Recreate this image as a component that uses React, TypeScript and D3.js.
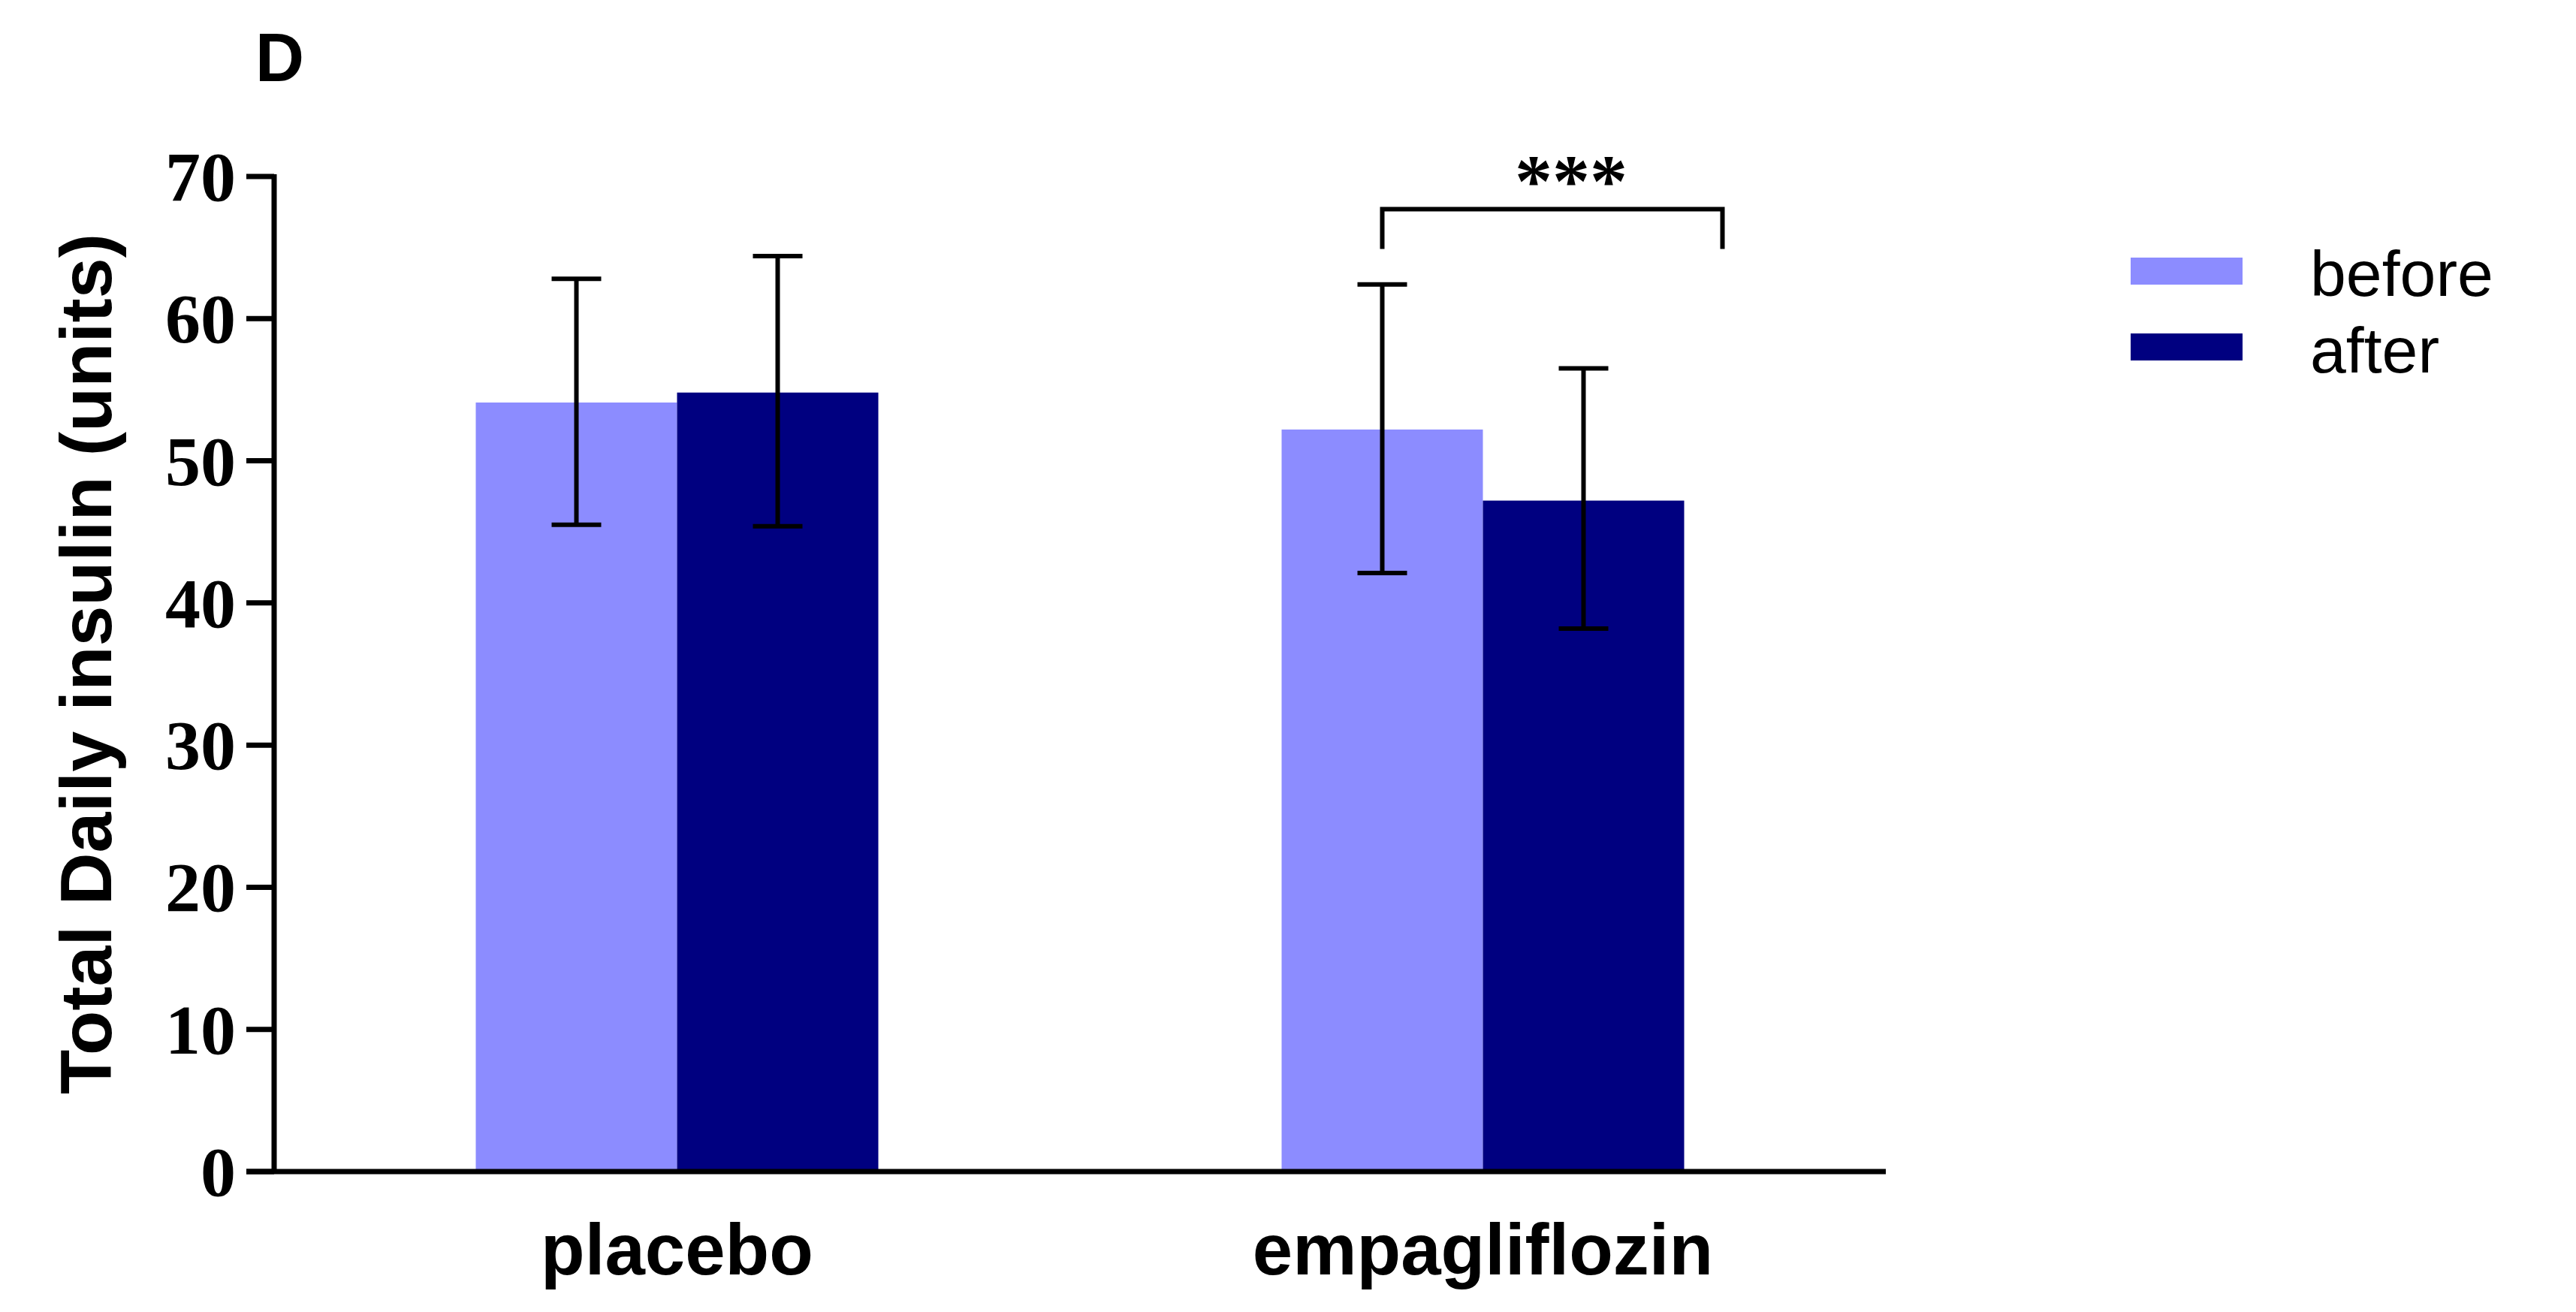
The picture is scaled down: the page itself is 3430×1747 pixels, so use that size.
import React from "react";
import * as d3 from "d3";

const groups = ["placebo", "empagliflozin"];
const series = ["before", "after"];
const colors = ["#8c8cff", "#000080"];
const means = [
  [54.1, 54.8],
  [52.2, 47.2],
];
const errTop = [
  [62.8, 64.4],
  [62.4, 56.5],
];
const errBottom = [
  [45.5, 45.4],
  [42.1, 38.2],
];
const yTicks = [0, 10, 20, 30, 40, 50, 60, 70];
const bracketLevel = 67.7;
const bracketDrop = 64.9;
const starsLabel = "***";

export default function App() {
  const W = 3430;
  const H = 1747;
  const x0 = 365;
  const x1 = 2511;
  const yBottom = 1560;
  const yTop = 235;
  const y = d3.scaleLinear().domain([0, 70]).range([yBottom, yTop]);
  const xg = d3.scalePoint<string>().domain(groups).range([x0, x1]).padding(0.5);
  const barW = 268;
  const xs = d3.scaleBand<string>().domain(series).range([-barW, barW]).padding(0);
  const sans = "'Liberation Sans', Arial, sans-serif";
  const serif = "'Liberation Serif', 'Times New Roman', serif";
  const capW = 66;

  const g2 = xg("empagliflozin")!;
  const bLeft = g2 + xs("before")! + barW / 2;
  const bRight = g2 + xs("after")! + barW + 51;

  return (
    <div style={{ position: "absolute", left: 0, top: 0 }}>
      <svg width={W} height={H} style={{ display: "block", background: "#fff" }}>
        <text x={340} y={108} fontFamily={sans} fontWeight="bold" fontSize={90}>
          D
        </text>
        {groups.map((g, gi) =>
          series.map((s, si) => {
            const bx = xg(g)! + xs(s)!;
            return (
              <rect
                key={g + s}
                x={bx}
                y={y(means[gi][si])}
                width={barW}
                height={yBottom - y(means[gi][si])}
                fill={colors[si]}
              />
            );
          })
        )}
        {groups.map((g, gi) =>
          series.map((s, si) => {
            const cx = xg(g)! + xs(s)! + barW / 2;
            return (
              <g key={"e" + g + s} stroke="#000" strokeWidth={6}>
                <line x1={cx} x2={cx} y1={y(errTop[gi][si])} y2={y(errBottom[gi][si])} />
                <line x1={cx - capW / 2} x2={cx + capW / 2} y1={y(errTop[gi][si])} y2={y(errTop[gi][si])} />
                <line x1={cx - capW / 2} x2={cx + capW / 2} y1={y(errBottom[gi][si])} y2={y(errBottom[gi][si])} />
              </g>
            );
          })
        )}
        <line x1={x0} x2={x0} y1={yTop - 3} y2={yBottom + 3} stroke="#000" strokeWidth={7} />
        <line x1={x0 - 37} x2={x1} y1={yBottom} y2={yBottom} stroke="#000" strokeWidth={7} />
        {yTicks.map((t) => (
          <g key={t}>
            <line x1={x0 - 37} x2={x0} y1={y(t)} y2={y(t)} stroke="#000" strokeWidth={7} />
            <text
              x={314}
              y={y(t)}
              dy="0.34em"
              textAnchor="end"
              fontFamily={serif}
              fontWeight="bold"
              fontSize={94}
            >
              {t}
            </text>
          </g>
        ))}
        {groups.map((g) => (
          <text
            key={g}
            x={xg(g)!}
            y={1697}
            textAnchor="middle"
            fontFamily={sans}
            fontWeight="bold"
            fontSize={96}
          >
            {g}
          </text>
        ))}
        <text
          transform={`translate(148, 884) rotate(-90)`}
          textAnchor="middle"
          fontFamily={sans}
          fontWeight="bold"
          fontSize={97}
        >
          Total Daily insulin (units)
        </text>
        <path
          d={`M${bLeft},${y(bracketDrop)} L${bLeft},${y(bracketLevel)} L${bRight},${y(bracketLevel)} L${bRight},${y(bracketDrop)}`}
          fill="none"
          stroke="#000"
          strokeWidth={6}
        />
        <text
          x={(bLeft + bRight) / 2 + 25}
          y={274}
          textAnchor="middle"
          fontFamily={serif}
          fontWeight="bold"
          fontSize={100}
        >
          {starsLabel}
        </text>
        {series.map((s, si) => (
          <g key={"l" + s}>
            <rect x={2837} y={343 + si * 101} width={149} height={36} fill={colors[si]} />
            <text x={3076} y={394 + si * 102} fontFamily={sans} fontSize={86}>
              {s}
            </text>
          </g>
        ))}
      </svg>
    </div>
  );
}
